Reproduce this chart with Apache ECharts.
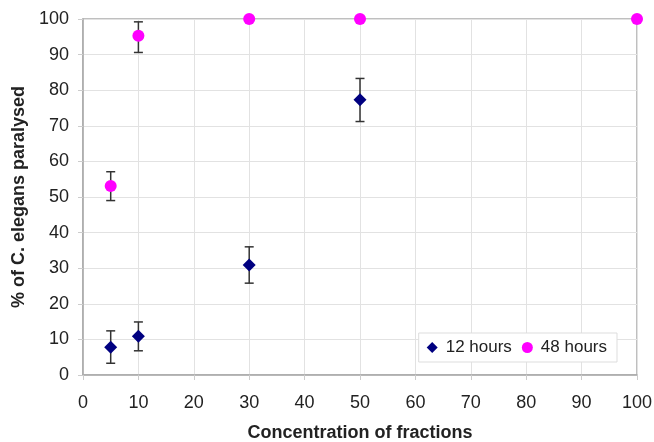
<!DOCTYPE html>
<html><head><meta charset="utf-8">
<script src="https://cdn.jsdelivr.net/npm/echarts@6/dist/echarts.min.js"></script>
<style>html,body{margin:0;padding:0;background:#fff}#c{width:654px;height:442px}</style>
</head><body><div id="c"></div>
<script>
const xTicks = [0,10,20,30,40,50,60,70,80,90,100];
const conc12 = [5, 10, 30, 50];
const mean12 = [7.8, 10.9, 30.9, 77.3];
const low12  = [3.3, 6.8, 25.8, 71.2];
const high12 = [12.4, 14.9, 36.0, 83.3];
const conc48 = [5, 10, 30, 50, 100];
const mean48 = [53.1, 95.3, 100, 100, 100];
const low48  = [49.0, 90.6, 100, 100, 100];
const high48 = [57.1, 99.2, 100, 100, 100];

const errData = [];
conc12.forEach((x,i)=>errData.push([x, low12[i], high12[i]]));
conc48.forEach((x,i)=>{ if (high48[i] > low48[i]) errData.push([x, low48[i], high48[i]]); });

function renderErr(params, api) {
  const x = api.value(0);
  const lo = api.coord([x, api.value(1)]);
  const hi = api.coord([x, api.value(2)]);
  const w = 4.5;
  const st = {stroke:'#333', lineWidth:1.5};
  return {type:'group', children:[
    {type:'line', shape:{x1:lo[0], y1:lo[1], x2:hi[0], y2:hi[1]}, style:st},
    {type:'line', shape:{x1:lo[0]-w, y1:lo[1], x2:lo[0]+w, y2:lo[1]}, style:st},
    {type:'line', shape:{x1:hi[0]-w, y1:hi[1], x2:hi[0]+w, y2:hi[1]}, style:st}
  ]};
}

const chart = echarts.init(document.getElementById('c'), null, {renderer:'canvas'});
const font = 'Liberation Sans, Arial, sans-serif';
chart.setOption({
  animation:false,
  backgroundColor:'#fff',
  grid:{left:83, right:17, top:19, bottom:67, containLabel:false, outerBoundsMode:'none',
        show:true, borderColor:'#aaa', borderWidth:1.5, backgroundColor:'transparent'},
  legend:{
    right:37, top:333, orient:'horizontal',
    backgroundColor:'#fff', borderColor:'#ddd', borderWidth:1,
    padding:[6,10,6,8], itemGap:10, itemWidth:11, itemHeight:11,
    textStyle:{fontFamily:font, fontSize:17, color:'#222', padding:[0,0,0,3]},
    data:[{name:'12 hours', icon:'diamond'},{name:'48 hours', icon:'circle'}]
  },
  xAxis:{
    type:'value', min:0, max:100, interval:10,
    name:'Concentration of fractions', nameLocation:'middle', nameGap:49,
    nameTextStyle:{fontFamily:font, fontSize:18, fontWeight:'bold', color:'#222'},
    axisLine:{show:true, lineStyle:{color:'#aaa', width:1.5}},
    axisTick:{show:true, length:5, lineStyle:{color:'#ccc'}},
    axisLabel:{fontFamily:font, fontSize:18, color:'#222', margin:19, formatter:v=>xTicks.includes(v)?String(v):''},
    splitLine:{show:true, lineStyle:{color:'#e2e2e2', width:1}}
  },
  yAxis:{
    type:'value', min:0, max:100, interval:10,
    name:'% of C. elegans paralysed', nameLocation:'middle', nameGap:52,
    nameTextStyle:{fontFamily:font, fontSize:18, fontWeight:'bold', color:'#222'},
    axisLine:{show:true, lineStyle:{color:'#aaa', width:1.5}},
    axisTick:{show:true, length:5, lineStyle:{color:'#ccc'}},
    axisLabel:{fontFamily:font, fontSize:18, color:'#222', margin:14},
    splitLine:{show:true, lineStyle:{color:'#e2e2e2', width:1}}
  },
  series:[
    {type:'custom', name:'err', renderItem:renderErr, data:errData, z:1, clip:false, silent:true, encode:{x:0,y:[1,2]}},
    {type:'scatter', name:'12 hours', symbol:'diamond', symbolSize:13, clip:false, z:3,
     itemStyle:{color:'#000080', opacity:1}, data:conc12.map((x,i)=>[x, mean12[i]])},
    {type:'scatter', name:'48 hours', symbol:'circle', symbolSize:12, clip:false, z:3,
     itemStyle:{color:'#ff00ff', opacity:1}, data:conc48.map((x,i)=>[x, mean48[i]])}
  ]
});
</script></body></html>
